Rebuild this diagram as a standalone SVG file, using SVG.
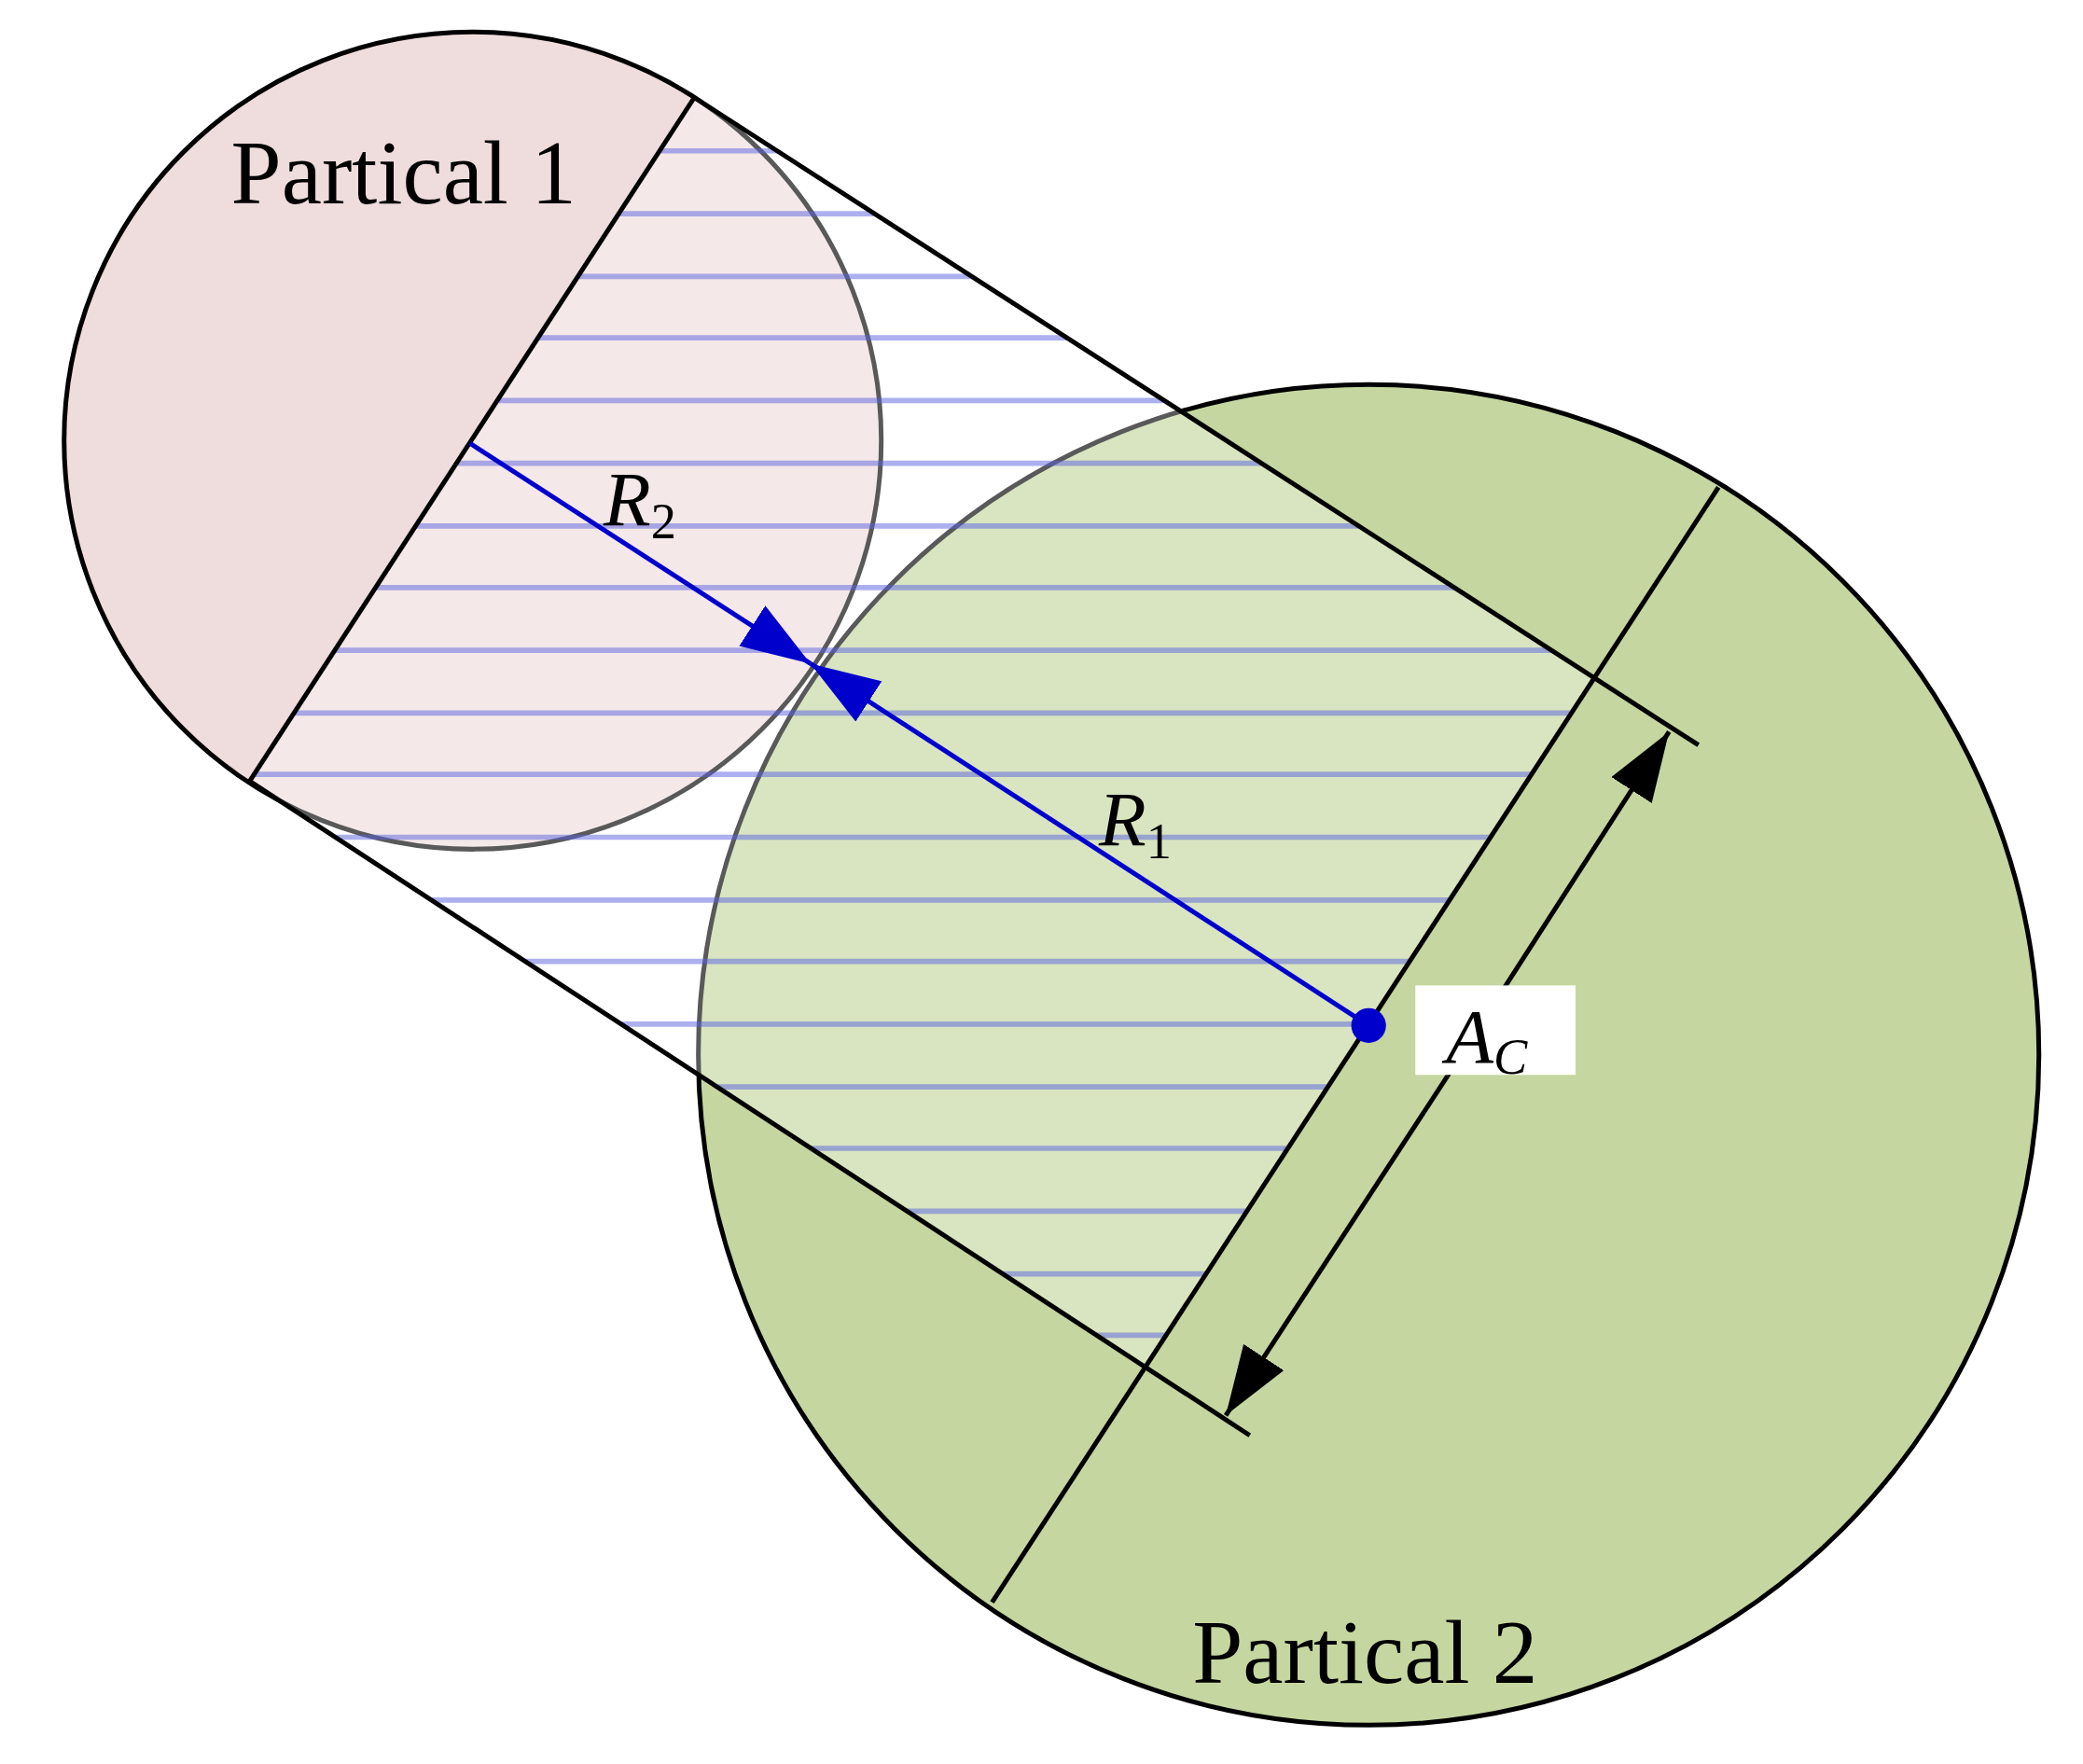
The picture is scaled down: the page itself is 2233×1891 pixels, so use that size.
<svg xmlns="http://www.w3.org/2000/svg" width="2233" height="1891" viewBox="0 0 2233 1891">
<style>
.o{fill:none;stroke:#000;stroke-width:3.5}
.h{stroke:#5a62e0;stroke-opacity:0.5;stroke-width:4}
.lb{font-family:"Liberation Serif",serif;font-size:68px}
.it{font-family:"Liberation Serif",serif;font-style:italic;font-size:58px}
.sub{font-family:"Liberation Serif",serif;font-size:38px}
</style>
<defs>
<clipPath id="cp"><polygon points="520,73 187,585 858,1024 1194,508"/></clipPath>
<marker id="ab" viewBox="0 0 10 10" refX="10" refY="5" markerWidth="52" markerHeight="36" markerUnits="userSpaceOnUse" orient="auto" preserveAspectRatio="none"><path d="M0,0 L10,5 L0,10z" fill="#0000cc"/></marker>
<marker id="ak" viewBox="0 0 10 10" refX="10" refY="5" markerWidth="52" markerHeight="36" markerUnits="userSpaceOnUse" orient="auto" preserveAspectRatio="none"><path d="M0,0 L10,5 L0,10z" fill="#000"/></marker>
</defs>
<rect width="2233" height="1891" fill="#fff"/>
<g transform="scale(1.4314)">
<g id="particle1"><circle cx="354" cy="330" r="306" fill="#efdcdc"/></g>
<g id="particle2"><circle cx="1025" cy="790" r="502" fill="#c5d6a0"/></g>
<g id="outlines">
<circle class="o" cx="354" cy="330" r="306"/>
<circle class="o" cx="1025" cy="790" r="502"/>
</g>
<g id="hatch">
<polygon points="520,73 187,585 858,1024 1194,508" fill="#fff" fill-opacity="0.35"/>
<g clip-path="url(#cp)">
<path class="h" d="M0,113H1600M0,160H1600M0,207H1600M0,253H1600M0,300H1600M0,347H1600M0,394H1600M0,440H1600M0,487H1600M0,534H1600M0,580H1600M0,627H1600M0,674H1600M0,720H1600M0,767H1600M0,814H1600M0,860H1600M0,907H1600M0,954H1600M0,1000H1600"/>
</g>
</g>
<g id="connectors">
<line class="o" x1="520" y1="73" x2="1272" y2="558"/>
<line class="o" x1="187" y1="585" x2="936" y2="1075"/>
<line class="o" x1="520" y1="73" x2="187" y2="585"/>
<line class="o" x1="1287" y1="365" x2="743" y2="1200"/>
<line x1="1084" y1="806" x2="1250" y2="548" stroke="#000" stroke-width="3.5" marker-end="url(#ak)"/>
<line x1="1084" y1="806" x2="918" y2="1060" stroke="#000" stroke-width="3.5" marker-end="url(#ak)"/>
<line x1="352" y1="332" x2="607" y2="497" stroke="#0000cc" stroke-width="3.5" marker-end="url(#ab)"/>
<line x1="1025" y1="768" x2="607" y2="497" stroke="#0000cc" stroke-width="3.5" marker-end="url(#ab)"/>
</g>
<circle cx="1025" cy="768" r="13" fill="#0000cc"/>
<g id="labels">
<text class="lb" x="173" y="152">Partical 1</text>
<text class="lb" x="893" y="1260">Partical 2</text>
<text class="it" x="452" y="393">R<tspan class="sub" font-style="normal" dy="10">2</tspan></text>
<text class="it" x="823" y="633">R<tspan class="sub" font-style="normal" dy="10">1</tspan></text>
<rect x="1060" y="738" width="120" height="67" fill="#fff"/>
<text class="it" x="1083" y="796">A<tspan class="sub" dy="8">C</tspan></text>
</g>
</g>
</svg>
